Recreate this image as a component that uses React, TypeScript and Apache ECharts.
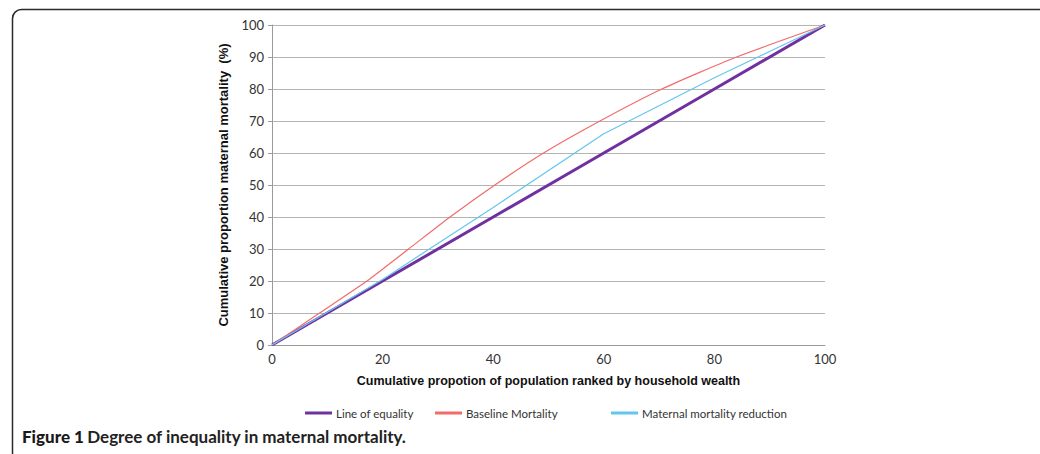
import React, { useEffect, useRef } from "react";
import * as echarts from "echarts";

const xTicks = [0, 20, 40, 60, 80, 100];
const yTicks = [0, 10, 20, 30, 40, 50, 60, 70, 80, 90, 100];

const equalityX = [0, 20, 40, 60, 80, 100];
const equalityY = [0, 20, 40, 60, 80, 100];

const baselineX = [0, 8.4, 17.1, 24.7, 32.2, 40.3, 49.1, 59.3, 70.5, 84, 100];
const baselineY = [0, 9.75, 19.9, 30, 40, 50, 60, 70, 80, 90, 100];

const reductionX = [0, 20, 40, 60, 80, 100];
const reductionY = [0, 20.5, 43, 66, 83.5, 100];

const seriesNames = ["Line of equality", "Baseline Mortality", "Maternal mortality reduction"];
const seriesColors = ["#7030a0", "#f26b6b", "#63c6ef"];

const pairs = (xs: number[], ys: number[]) => xs.map((x, i) => [x, ys[i]]);

export default function App() {
  const ref = useRef<HTMLDivElement>(null);
  useEffect(() => {
    if (!ref.current) return;
    const chart = echarts.init(ref.current, null, { renderer: "svg" });
    const tickFont = { fontFamily: "Lato", fontSize: 13, color: "#333" };
    const legendLefts = [300, 430, 606];
    chart.setOption({
      animation: false,
      backgroundColor: "#fff",
      grid: { left: 272, right: 215, top: 25, bottom: 109 },
      legend: seriesNames.map((n, i) => ({
        top: 402,
        left: legendLefts[i],
        itemWidth: 27,
        itemHeight: 3,
        itemGap: 4,
        icon: "rect",
        textStyle: { fontFamily: "Lato", fontSize: 11.5, color: "#333", padding: [0, 0, 0, -1] },
        data: [n],
      })),
      xAxis: {
        type: "value",
        min: 0,
        max: 100,
        interval: 20,
        name: "Cumulative propotion of population ranked by household wealth",
        nameLocation: "middle",
        nameGap: 29,
        nameTextStyle: { fontFamily: "Liberation Sans", fontWeight: "bold", fontSize: 12.5, color: "#111" },
        axisLine: { show: true, lineStyle: { color: "#9a9a9a", width: 1 } },
        axisTick: { show: false },
        axisLabel: { ...tickFont, margin: 7, formatter: (v: number) => (xTicks.includes(v) ? String(v) : "") },
        splitLine: { show: false },
      },
      yAxis: {
        type: "value",
        min: 0,
        max: 100,
        interval: 10,
        name: "Cumulative proportion maternal mortality  (%)",
        nameLocation: "middle",
        nameGap: 31,
        nameRotate: 90,
        nameTextStyle: { fontFamily: "Liberation Sans", fontWeight: "bold", fontSize: 13, color: "#111" },
        axisLine: { show: true, lineStyle: { color: "#9a9a9a", width: 1 } },
        axisTick: { show: true, length: 4, inside: false, lineStyle: { color: "#9a9a9a" } },
        axisLabel: { ...tickFont, margin: 8, formatter: (v: number) => (yTicks.includes(v) ? String(v) : "") },
        splitLine: { show: true, lineStyle: { color: "#b4b4b4", width: 1 } },
      },
      series: [
        {
          name: seriesNames[0],
          type: "line",
          data: pairs(equalityX, equalityY),
          showSymbol: false,
          color: seriesColors[0],
          lineStyle: { color: seriesColors[0], width: 3 },
          z: 3,
        },
        {
          name: seriesNames[1],
          type: "line",
          data: pairs(baselineX, baselineY),
          showSymbol: false,
          smooth: 0.2,
          color: seriesColors[1],
          lineStyle: { color: seriesColors[1], width: 1.2 },
          z: 4,
        },
        {
          name: seriesNames[2],
          type: "line",
          data: pairs(reductionX, reductionY),
          showSymbol: false,
          color: seriesColors[2],
          lineStyle: { color: seriesColors[2], width: 1.2 },
          z: 4,
        },
      ],
      graphic: [
        {
          type: "rect",
          left: 10,
          top: 7,
          shape: { width: 1100, height: 452, r: 9 },
          style: { fill: "none", stroke: "#2a2a2a", lineWidth: 1.5 },
          silent: true,
        },
        {
          type: "text",
          left: 22,
          top: 428,
          style: {
            text: "{a|Figure 1} {b|Degree of inequality in maternal mortality.}",
            rich: {
              a: { font: "900 17px Lato", fill: "#1a1a1a" },
              b: { font: "bold 17px Lato", fill: "#222" },
            },
          },
        },
      ],
    });
    return () => chart.dispose();
  }, []);
  return <div ref={ref} style={{ width: 1040, height: 454, position: "absolute", left: 0, top: 0 }} />;
}
